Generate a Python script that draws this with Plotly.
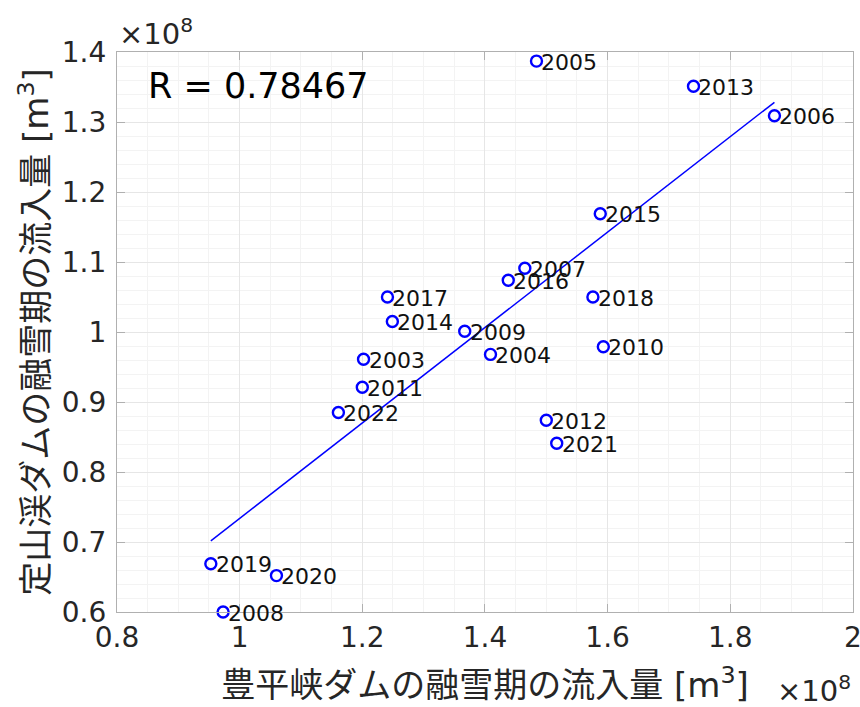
import numpy as np
import plotly.graph_objects as go

# Snowmelt-season inflow (x1e8 m^3) for each year
years = ["2005", "2013", "2006", "2015", "2007", "2016", "2018", "2009", "2010",
         "2004", "2012", "2021", "2017", "2014", "2003", "2011", "2022", "2019",
         "2020", "2008"]
hoheikyo = [1.484, 1.740, 1.872, 1.588, 1.465, 1.438, 1.576, 1.367, 1.593,
            1.409, 1.500, 1.517, 1.241, 1.249, 1.202, 1.200, 1.161, 0.953,
            1.060, 0.973]
jozankei = [1.387, 1.351, 1.309, 1.169, 1.091, 1.074, 1.050, 1.001, 0.979,
            0.968, 0.874, 0.841, 1.050, 1.015, 0.961, 0.921, 0.885, 0.669,
            0.652, 0.600]

x_ticks = [0.8, 1.0, 1.2, 1.4, 1.6, 1.8, 2.0]
x_tick_text = ["0.8", "1", "1.2", "1.4", "1.6", "1.8", "2"]
y_ticks = [0.6, 0.7, 0.8, 0.9, 1.0, 1.1, 1.2, 1.3, 1.4]
y_tick_text = ["0.6", "0.7", "0.8", "0.9", "1", "1.1", "1.2", "1.3", "1.4"]

r_label = "R = 0.78467"

FONT = "DejaVu Sans, Noto Sans CJK JP, sans-serif"
BLUE = "#0000ff"
INK = "#262626"

x = np.array(hoheikyo)
y = np.array(jozankei)
slope, intercept = np.polyfit(x, y, 1)
fit_x = np.array([x.min(), x.max()])
fit_y = slope * fit_x + intercept

fig = go.Figure()

fig.add_trace(go.Scatter(
    x=fit_x, y=fit_y, mode="lines",
    line=dict(color=BLUE, width=1.5),
    hoverinfo="skip", showlegend=False,
))

fig.add_trace(go.Scatter(
    x=hoheikyo, y=jozankei, mode="markers",
    marker=dict(symbol="circle-open", size=11, color=BLUE, line=dict(width=2.4, color=BLUE)),
    cliponaxis=False, showlegend=False,
))

for yr, xv, yv in zip(years, hoheikyo, jozankei):
    fig.add_annotation(
        x=xv, y=yv, text=yr, showarrow=False,
        xanchor="left", yanchor="middle", xshift=3, yshift=-1,
        font=dict(family=FONT, size=22, color="#111111"),
    )

fig.add_annotation(
    xref="paper", yref="paper", x=0.039, y=0.94, text=r_label,
    showarrow=False, xanchor="left", yanchor="middle",
    font=dict(family=FONT, size=35, color="#000000"),
)

# exponent markers for both axes
fig.add_annotation(
    xref="paper", yref="paper", x=0.0, y=1.0, yshift=-1,
    text="×10<sup>8</sup>", showarrow=False, xanchor="left", yanchor="bottom",
    font=dict(family=FONT, size=29, color=INK),
)
fig.add_annotation(
    xref="paper", yref="paper", x=1.0, y=0.0, yshift=-98,
    text="×10<sup>8</sup>", showarrow=False, xanchor="right", yanchor="bottom",
    font=dict(family=FONT, size=29, color=INK),
)

axis_common = dict(
    showline=True, linecolor="#b0b0b0", linewidth=1.3, mirror="allticks",
    ticks="inside", ticklen=8, tickcolor="#b0b0b0",
    showgrid=True, gridcolor="#e6e6e6", gridwidth=1,
    zeroline=False, ticklabeloverflow="allow", automargin=False,
    tickfont=dict(family=FONT, size=28, color=INK),
)

fig.update_xaxes(
    range=[0.8, 2.0001], tickvals=x_ticks, ticktext=x_tick_text,
    minor=dict(dtick=0.05, showgrid=True, gridcolor="#f3f3f3", ticks=""),
    title=dict(text="豊平峡ダムの融雪期の流入量 [m<sup>3</sup>]",
               font=dict(family=FONT, size=34, color=INK), standoff=20),
    **axis_common,
)
fig.update_yaxes(
    range=[0.6, 1.4], tickvals=y_ticks, ticktext=y_tick_text,
    minor=dict(dtick=0.02, showgrid=True, gridcolor="#f3f3f3", ticks=""),
    ticklabelstandoff=4,
    title=dict(text="定山渓ダムの融雪期の流入量 [m<sup>3</sup>]",
               font=dict(family=FONT, size=34, color=INK), standoff=2),
    **axis_common,
)

fig.update_layout(
    width=860, height=707,
    margin=dict(l=117, r=7, t=52, b=95),
    paper_bgcolor="white", plot_bgcolor="white",
    font=dict(family=FONT),
)

fig.write_html("out.html")
